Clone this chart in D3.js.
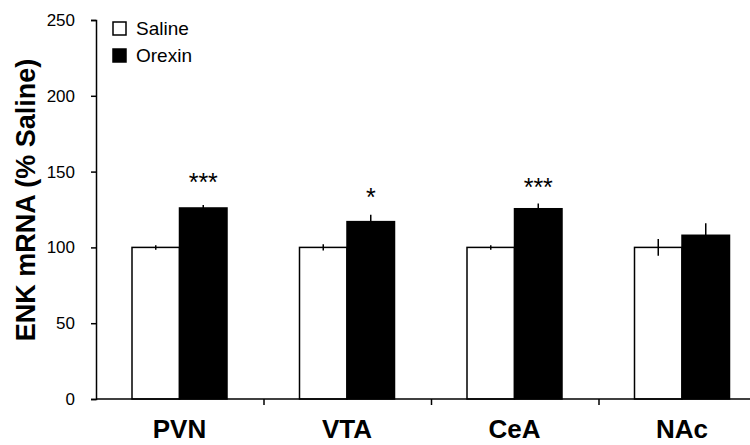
<!DOCTYPE html>
<html>
<head>
<meta charset="utf-8">
<script src="https://cdn.jsdelivr.net/npm/d3@7"></script>
<style>
  body { margin: 0; background: #fff; }
  svg { display: block; font-family: Arial, "Liberation Sans", sans-serif; }
</style>
</head>
<body>
<div id="chart"></div>
<script>
const regions = ['PVN', 'VTA', 'CeA', 'NAc']
const groups = ['Saline', 'Orexin']
const salineMean = [100, 100, 100, 100]
const salineErr = [1.5, 2, 1.5, 5.5]
const orexinMean = [126, 117, 125.5, 108]
const orexinErr = [2, 4.5, 3.5, 8]
const stars = ['***', '*', '***', '']
const starLevel = [146.5, 137, 143.5, 0]
const yTicks = [0, 50, 100, 150, 200, 250]

const width = 750
const height = 445
const x0 = 96
const yZero = 399
const yTop = 20

const svg = d3.select('#chart').append('svg')
  .attr('width', width)
  .attr('height', height)

const y = d3.scaleLinear().domain([0, 250]).range([yZero, yTop])

// categories span fixed-width slots, last one runs off the right edge
const slot = 167.5
const x = d3.scaleBand().domain(regions).range([x0, x0 + slot * regions.length])
const xSub = d3.scaleBand().domain(groups).range([36, 131])
const xEdge = d3.scaleLinear().domain([0, regions.length]).range(x.range())

const rows = regions.map((r, i) => ({
  region: r,
  values: [
    { group: 'Saline', mean: salineMean[i], err: salineErr[i] },
    { group: 'Orexin', mean: orexinMean[i], err: orexinErr[i] }
  ],
  star: stars[i],
  starAt: starLevel[i]
}))

// bars
const g = svg.selectAll('g.region').data(rows).enter().append('g')
  .attr('class', 'region')
  .attr('transform', d => `translate(${x(d.region)},0)`)

g.selectAll('rect').data(d => d.values).enter().append('rect')
  .attr('x', d => xSub(d.group))
  .attr('y', d => y(d.mean))
  .attr('width', xSub.bandwidth())
  .attr('height', d => y(0) - y(d.mean))
  .attr('fill', d => d.group === 'Saline' ? '#fff' : '#000')
  .attr('stroke', '#000')
  .attr('stroke-width', 1.5)

g.selectAll('line.err').data(d => d.values).enter().append('line')
  .attr('class', 'err')
  .attr('x1', d => xSub(d.group) + xSub.bandwidth() / 2)
  .attr('x2', d => xSub(d.group) + xSub.bandwidth() / 2)
  .attr('y1', d => y(d.mean - d.err))
  .attr('y2', d => y(d.mean + d.err))
  .attr('stroke', '#000')
  .attr('stroke-width', 1.5)

const starSize = 25
g.filter(d => d.star).append('text')
  .attr('x', xSub('Orexin') + xSub.bandwidth() / 2)
  .attr('y', d => y(d.starAt) + starSize * 0.58)
  .attr('text-anchor', 'middle')
  .attr('font-size', starSize)
  .text(d => d.star)

// y axis
const yAxis = svg.append('g')
  .attr('transform', `translate(${x0},0)`)
  .call(d3.axisLeft(y).tickValues(yTicks).tickSize(5).tickPadding(16))
yAxis.select('.domain').attr('stroke-width', 1.5)
yAxis.selectAll('.tick line').attr('stroke-width', 1.5)
yAxis.selectAll('.tick text')
  .attr('font-size', 17)
  .attr('font-family', 'Arial, "Liberation Sans", sans-serif')

// x axis: ticks sit between categories
const xAxis = svg.append('g')
  .attr('transform', `translate(0,${yZero})`)
  .call(d3.axisBottom(xEdge).tickValues([1, 2, 3]).tickSize(6).tickFormat(''))
xAxis.select('.domain').attr('d', `M${x0},0H${width}`).attr('stroke-width', 1.5)
xAxis.selectAll('.tick line').attr('stroke-width', 1.5)

svg.selectAll('text.cat').data(regions).enter().append('text')
  .attr('class', 'cat')
  .attr('x', d => x(d) + xSub(groups[1]))
  .attr('y', 438)
  .attr('text-anchor', 'middle')
  .attr('font-size', 26)
  .attr('font-weight', 'bold')
  .text(d => d)

svg.append('text')
  .attr('transform', 'translate(35,200) rotate(-90)')
  .attr('text-anchor', 'middle')
  .attr('font-size', 27)
  .attr('font-weight', 'bold')
  .text('ENK mRNA (% Saline)')

// legend
const legend = svg.selectAll('g.legend').data(groups).enter().append('g')
  .attr('class', 'legend')
  .attr('transform', (d, i) => `translate(113,${22 + i * 27})`)
legend.append('rect')
  .attr('width', 13)
  .attr('height', 13)
  .attr('fill', d => d === 'Saline' ? '#fff' : '#000')
  .attr('stroke', '#000')
  .attr('stroke-width', 1.5)
legend.append('text')
  .attr('x', 23)
  .attr('y', 13)
  .attr('font-size', 19)
  .text(d => d)
</script>
</body>
</html>
